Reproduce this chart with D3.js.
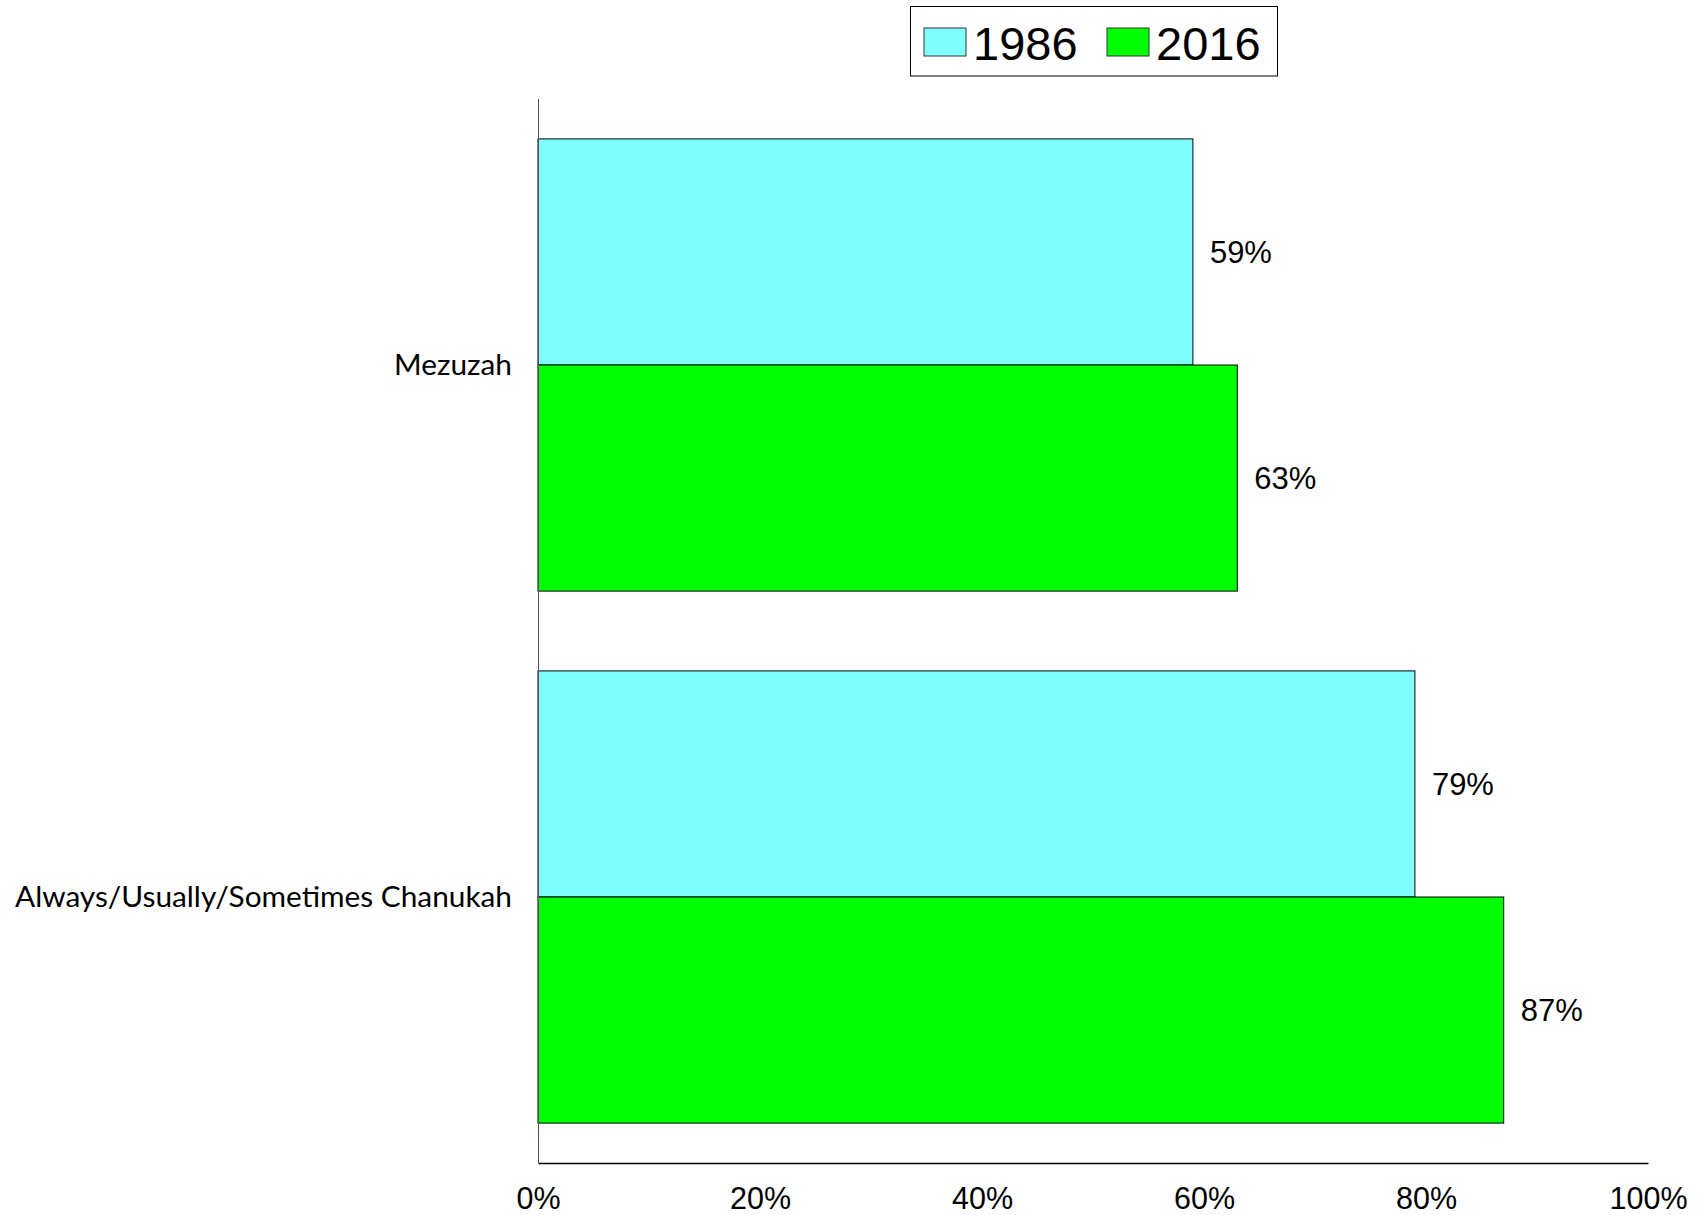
<!DOCTYPE html>
<html>
<head>
<meta charset="utf-8">
<script src="https://cdn.jsdelivr.net/npm/d3@7/dist/d3.min.js"></script>
<style>
  html, body { margin: 0; padding: 0; background: #fff; }
  svg { display: block; }
</style>
</head>
<body>
<svg id="chart" width="1702" height="1215"></svg>
<script>
const categories = ["Mezuzah", "Always/Usually/Sometimes Chanukah"];
const seriesNames = ["1986", "2016"];
const values1986 = [59, 79];
const values2016 = [63, 87];
const tickValues = [0, 20, 40, 60, 80, 100];
const colors = ["#80FFFF", "#00FF00"];

(function () {
const svg = d3.select("#chart");
const plotLeft = 538, plotRight = 1648, plotTop = 99, plotBottom = 1163;

const x = d3.scaleLinear().domain([0, 100]).range([plotLeft, plotRight]);
const y0 = d3.scaleBand().domain(categories).range([plotTop, plotBottom])
  .paddingInner(0.15).paddingOuter(0.075);
const y1 = d3.scaleBand().domain(seriesNames).range([0, y0.bandwidth()]);

const data = categories.map((c, i) => ({
  cat: c,
  vals: [{s: "1986", v: values1986[i]}, {s: "2016", v: values2016[i]}]
}));

const color = d3.scaleOrdinal().domain(seriesNames).range(colors);

const groups = svg.selectAll("g.cat").data(data).enter().append("g")
  .attr("class", "cat")
  .attr("transform", d => `translate(0,${y0(d.cat)})`);

groups.selectAll("rect").data(d => d.vals).enter().append("rect")
  .attr("x", x(0))
  .attr("y", d => y1(d.s))
  .attr("width", d => x(d.v) - x(0))
  .attr("height", y1.bandwidth())
  .attr("fill", d => color(d.s))
  .attr("stroke", "#000")
  .attr("stroke-width", 1);

groups.selectAll("text.val").data(d => d.vals).enter().append("text")
  .attr("class", "val")
  .attr("x", d => x(d.v) + 17)
  .attr("y", d => y1(d.s) + y1.bandwidth() / 2)
  .attr("dy", "0.35em")
  .attr("font-family", "Liberation Sans, Arial, sans-serif")
  .attr("font-size", 31)
  .attr("fill", "#000")
  .text(d => d.v + "%");

// vertical axis line
svg.append("line")
  .attr("x1", plotLeft + 0.5).attr("x2", plotLeft + 0.5)
  .attr("y1", plotTop).attr("y2", plotBottom)
  .attr("stroke", "#555").attr("stroke-width", 1);

// category labels
svg.selectAll("text.catlabel").data(categories).enter().append("text")
  .attr("class", "catlabel")
  .attr("x", plotLeft - 26)
  .attr("y", d => y0(d) + y0.bandwidth() / 2)
  .attr("dy", "0.35em")
  .attr("text-anchor", "end")
  .attr("font-family", "Lato, sans-serif")
  .attr("font-size", 29.8)
  .attr("fill", "#000")
  .text(d => d);

// x axis
const xAxis = d3.axisBottom(x).tickValues(tickValues).tickSize(0).tickPadding(0)
  .tickFormat(d => d + "%");
const gx = svg.append("g").attr("transform", `translate(0,${plotBottom})`).call(xAxis);
gx.select(".domain").attr("stroke", "#000").attr("stroke-width", 1.5);
gx.selectAll("text")
  .attr("font-family", "Liberation Sans, Arial, sans-serif")
  .attr("font-size", 30.5)
  .attr("fill", "#000")
  .attr("dy", null)
  .attr("y", 46);

// legend
const lg = svg.append("g");
lg.append("rect").attr("x", 910.5).attr("y", 6.5).attr("width", 367).attr("height", 69.5)
  .attr("fill", "#fff").attr("stroke", "#000").attr("stroke-width", 1);
const legendX = [924, 1107];
seriesNames.forEach((s, i) => {
  lg.append("rect").attr("x", legendX[i]).attr("y", 28).attr("width", 42).attr("height", 28)
    .attr("fill", colors[i]).attr("stroke", "#333").attr("stroke-width", 1);
  lg.append("text").attr("x", legendX[i] + 49).attr("y", 59.5)
    .attr("font-family", "Liberation Sans, Arial, sans-serif")
    .attr("font-size", 47).attr("fill", "#000").text(s);
});
})();
</script>
</body>
</html>
